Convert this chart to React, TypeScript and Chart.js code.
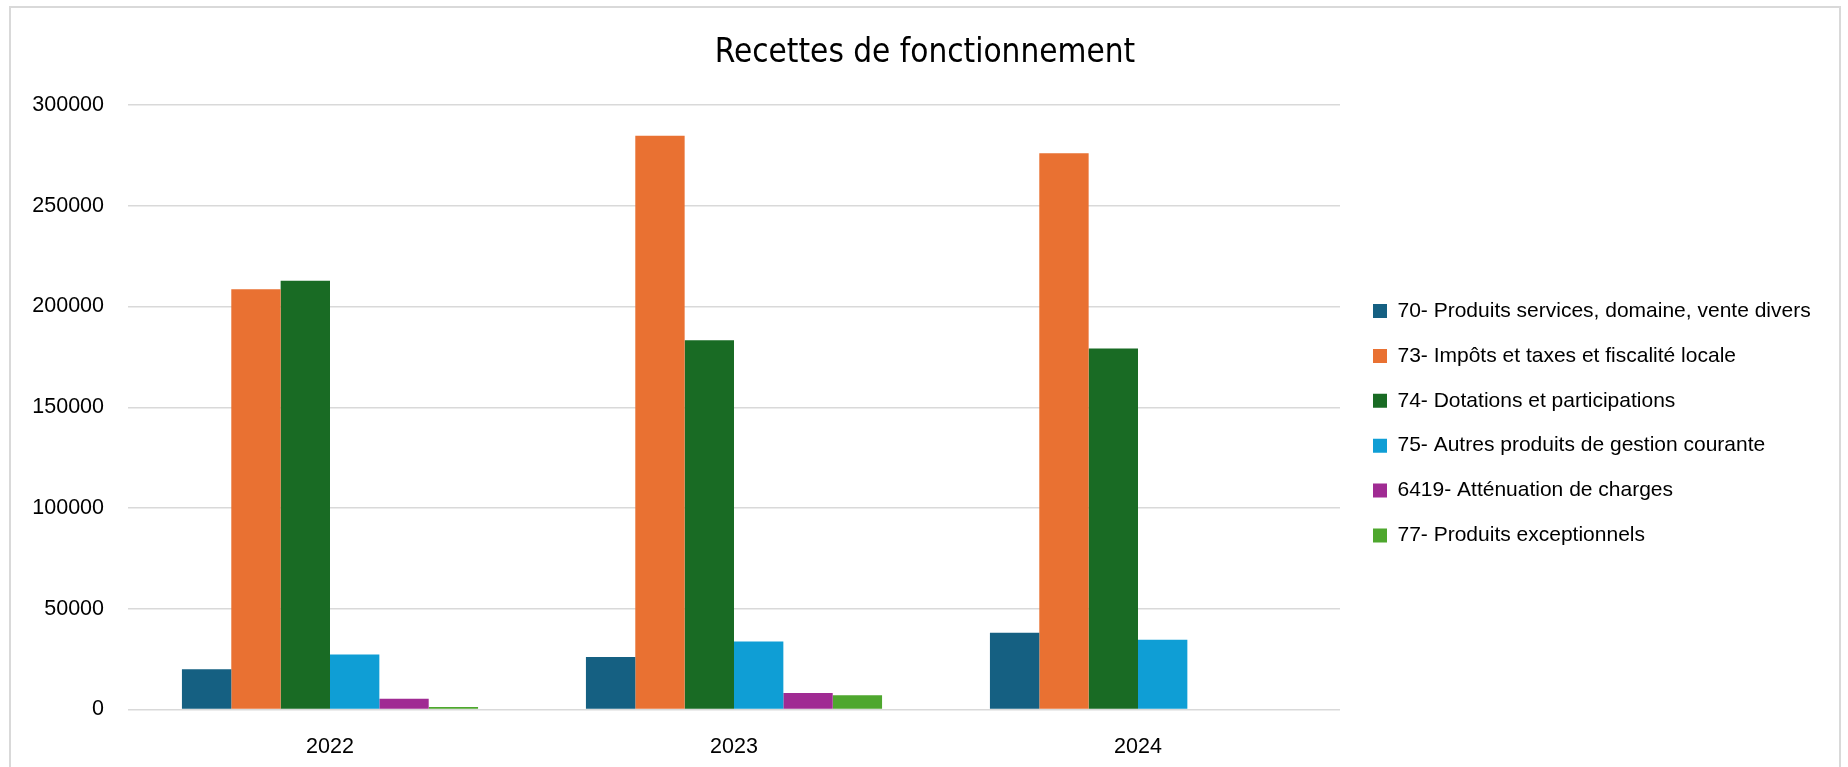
import React, { useEffect, useRef } from "react";
import { Chart, registerables } from "chart.js";

Chart.register(...registerables);

// ---- Data ----
const TITLE = "Recettes de fonctionnement";
const YEARS = ["2022", "2023", "2024"];
const SERIES_LABELS = [
  "70- Produits services, domaine, vente divers",
  "73- Impôts et taxes et fiscalité locale",
  "74- Dotations et participations",
  "75- Autres produits de gestion courante",
  "6419- Atténuation de charges",
  "77- Produits exceptionnels",
];
const SERIES_COLORS = ["#156082", "#E97132", "#196B24", "#0F9ED5", "#A02B93", "#4EA72E"];
const S70 = [20000, 26000, 38100];
const S73 = [208600, 284800, 276000];
const S74 = [212800, 183300, 179100];
const S75 = [27300, 33800, 34600];
const S6419 = [5300, 8200, null];
const S77 = [1300, 7100, null];
const Y_MIN = 0;
const Y_MAX = 300000;
const Y_STEP = 50000;

// ---- Layout ----
const CANVAS_W = 1828;
const CANVAS_H = 760;
const PLOT_LEFT = 117;
const PLOT_RIGHT = 1329;
const PLOT_BOTTOM = 701.5;
const X_AXIS_H = 50;
const LEGEND_PAD = 23.9;
const LEGEND_BOX_X = 1362;
const LEGEND_FIRST_CENTER = 303;
const LEGEND_FONT = 21;

const legendPlacement = {
  id: "legendPlacement",
  beforeInit(chart: any) {
    const legend = chart.legend;
    if (!legend) return;
    const origFit = legend.fit;
    legend.fit = function () {
      origFit.call(this);
      this.width = CANVAS_W - PLOT_RIGHT;
    };
  },
  afterLayout(chart: any) {
    const l = chart.legend;
    if (!l) return;
    const w = l.width;
    const h = l.height;
    l.left = LEGEND_BOX_X - LEGEND_PAD;
    l.right = l.left + w;
    l.top = LEGEND_FIRST_CENTER - LEGEND_FONT / 2 - LEGEND_PAD;
    l.bottom = l.top + h;
  },
};

export default function App() {
  const ref = useRef<HTMLCanvasElement | null>(null);

  useEffect(() => {
    if (!ref.current) return;
    const series = [S70, S73, S74, S75, S6419, S77];
    const chart = new Chart(ref.current, {
      type: "bar",
      data: {
        labels: YEARS,
        datasets: series.map((d, i) => ({
          label: SERIES_LABELS[i],
          data: d,
          backgroundColor: SERIES_COLORS[i],
          borderWidth: 0,
          categoryPercentage: 0.733,
          barPercentage: 1,
        })),
      },
      options: {
        responsive: false,
        animation: false,
        devicePixelRatio: 1,
        layout: { padding: { left: 0, right: 0, top: 0, bottom: CANVAS_H - PLOT_BOTTOM - X_AXIS_H } },
        plugins: {
          title: {
            display: true,
            text: TITLE,
            color: "#000",
            font: { family: "'Liberation Sans Narrow', 'DejaVu Sans Condensed', sans-serif", size: 33, weight: "normal", lineHeight: 1.2 },
            padding: { top: 25.6, bottom: 31.8 },
          },
          legend: {
            display: true,
            position: "right",
            align: "start",
            labels: {
              boxWidth: 14,
              boxHeight: 14,
              padding: LEGEND_PAD,
              color: "#000",
              font: { family: "'Liberation Sans', Arial, sans-serif", size: LEGEND_FONT },
            },
          },
          tooltip: { enabled: false },
        },
        scales: {
          x: {
            grid: { display: false },
            border: { display: false },
            ticks: {
              color: "#000",
              padding: 16.6,
              font: { family: "'Liberation Sans', Arial, sans-serif", size: 21.5 },
            },
            afterFit(scale: any) {
              scale.height = X_AXIS_H;
            },
          },
          y: {
            min: Y_MIN,
            max: Y_MAX,
            grid: { color: "#d9d9d9", lineWidth: 1.5, drawTicks: false },
            border: { display: false },
            ticks: {
              stepSize: Y_STEP,
              color: "#000",
              padding: 24,
              font: { family: "'Liberation Sans', Arial, sans-serif", size: 21.5 },
              callback: (v: any) => String(v),
            },
            afterFit(scale: any) {
              scale.width = PLOT_LEFT;
            },
          },
        },
      },
      plugins: [legendPlacement],
    });
    return () => chart.destroy();
  }, []);

  return (
    <div
      style={{
        position: "fixed",
        left: 9,
        top: 6,
        width: 1832,
        height: 800,
        border: "2px solid #d9d9d9",
        boxSizing: "border-box",
        background: "#fff",
      }}
    >
      <canvas ref={ref} width={CANVAS_W} height={CANVAS_H} style={{ display: "block" }} />
    </div>
  );
}
